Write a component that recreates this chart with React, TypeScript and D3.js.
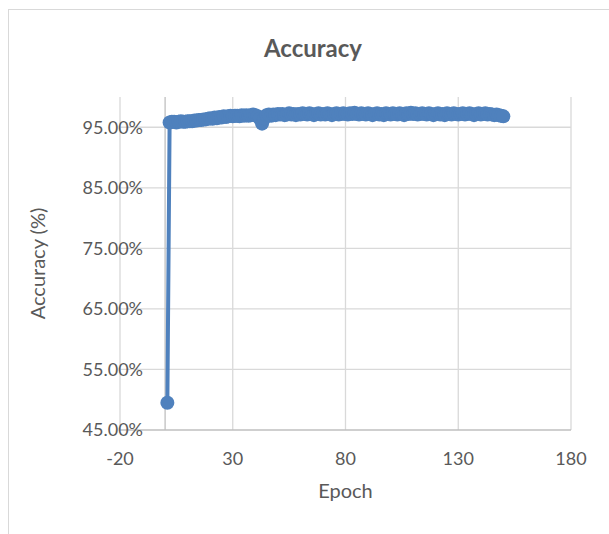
import React from "react";
import * as d3 from "d3";

const epochs: number[] = Array.from({ length: 150 }, (_, i) => i + 1);
const accuracy: number[] = [
  49.5,
  95.8, 95.9, 95.9, 95.8, 95.9, 96.0, 95.9, 95.9, 96.0,
  96.0, 96.0, 96.1, 96.1, 96.2, 96.2, 96.3, 96.3, 96.4, 96.5,
  96.4, 96.6, 96.5, 96.7, 96.6, 96.8, 96.7, 96.8, 96.9, 96.8,
  96.9, 96.9, 96.8, 97.0, 96.9, 97.0, 96.9, 97.0, 97.1, 97.0,
  96.8, 96.4, 95.6, 96.5, 97.0, 97.1, 96.9, 97.1, 97.0, 97.2,
  97.1, 97.2, 97.0, 97.1, 97.3, 97.1, 97.2, 97.0, 97.2, 97.1,
  97.3, 97.2, 97.1, 97.3, 97.2, 97.0, 97.2, 97.3, 97.1, 97.2,
  97.1, 97.3, 97.2, 97.0, 97.2, 97.3, 97.1, 97.2, 97.3, 97.2,
  97.1, 97.3, 97.2, 97.4, 97.2, 97.1, 97.3, 97.2, 97.1, 97.3,
  97.2, 97.0, 97.2, 97.3, 97.1, 97.2, 97.0, 97.3, 97.2, 97.1,
  97.3, 97.2, 97.1, 97.3, 97.2, 97.0, 97.3, 97.2, 97.4, 97.2,
  97.3, 97.1, 97.2, 97.3, 97.2, 97.1, 97.3, 97.2, 97.0, 97.2,
  97.3, 97.1, 97.2, 97.0, 97.3, 97.2, 97.1, 97.3, 97.2, 97.1,
  97.2, 97.3, 97.1, 97.2, 97.3, 97.2, 97.0, 97.2, 97.3, 97.1,
  97.2, 97.3, 97.1, 97.2, 97.1, 97.0, 97.1, 97.0, 96.9, 96.8,
];
const xTicks: number[] = [-20, 30, 80, 130, 180];
const yTicks: number[] = [45, 55, 65, 75, 85, 95];

const W = 609;
const H = 534;
const FONT = "Lato, 'Liberation Sans', sans-serif";
const TEXT = "#595959";
const GRID = "#d9d9d9";
const AXIS = "#bfbfbf";
const BLUE = "#4f81bd";

export default function App() {
  const x = d3.scaleLinear().domain([-20, 180]).range([120, 571]);
  const y = d3.scaleLinear().domain([45, 100]).range([430, 97]);
  const pts = epochs.map((e, i) => [e, accuracy[i]] as [number, number]);
  const line = d3
    .line<[number, number]>()
    .x((d) => x(d[0]))
    .y((d) => y(d[1]));

  return (
    <svg
      width={W}
      height={H}
      style={{ position: "absolute", left: 0, top: 0, background: "#fff" }}
      fontFamily={FONT}
    >
      <rect x={0} y={0} width={W} height={H} fill="#fff" />
      <rect x={8.5} y={9.5} width={640} height={600} fill="none" stroke={GRID} strokeWidth={1} />
      <text x={313} y={57} textAnchor="middle" fontSize={24} fontWeight="bold" fill={TEXT}>
        Accuracy
      </text>
      {xTicks.map((t) => (
        <line key={"gx" + t} x1={x(t)} x2={x(t)} y1={y(100)} y2={y(45)} stroke={GRID} strokeWidth={1.3} />
      ))}
      {yTicks.map((t) => (
        <line key={"gy" + t} x1={x(-20)} x2={x(180)} y1={y(t)} y2={y(t)} stroke={t === 45 ? AXIS : GRID} strokeWidth={1.3} />
      ))}
      <line x1={x(0)} x2={x(0)} y1={y(100)} y2={y(45)} stroke={AXIS} strokeWidth={1.3} />
      {yTicks.map((t) => (
        <text key={"ly" + t} x={143} y={y(t)} dy="0.35em" textAnchor="end" fontSize={18} fill={TEXT}>
          {t.toFixed(2) + "%"}
        </text>
      ))}
      {xTicks.map((t) => (
        <text key={"lx" + t} x={x(t)} y={465} textAnchor="middle" fontSize={18} fill={TEXT}>
          {t}
        </text>
      ))}
      <text x={(x(-20) + x(180)) / 2} y={498} textAnchor="middle" fontSize={20} fill={TEXT}>
        Epoch
      </text>
      <text
        transform={`translate(45, ${(y(100) + y(45)) / 2}) rotate(-90)`}
        textAnchor="middle"
        fontSize={20}
        fill={TEXT}
      >
        Accuracy (%)
      </text>
      <path d={line(pts) || ""} fill="none" stroke={BLUE} strokeWidth={4} strokeLinejoin="round" />
      {pts.map((d, i) => (
        <circle key={i} cx={x(d[0])} cy={y(d[1])} r={7} fill={BLUE} />
      ))}
    </svg>
  );
}
